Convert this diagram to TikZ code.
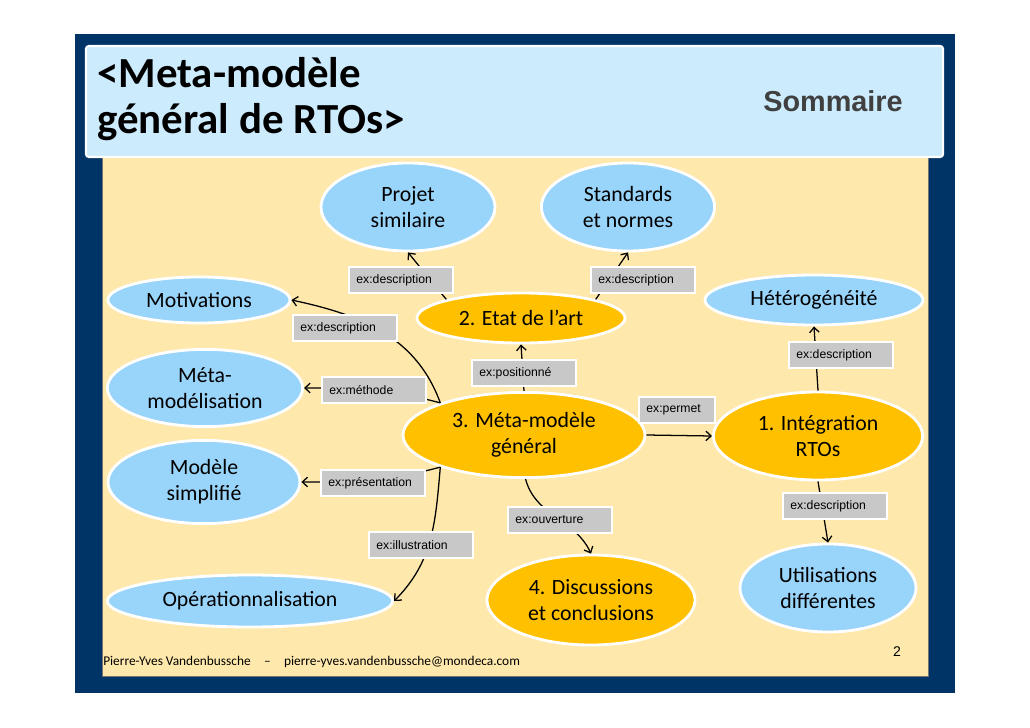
\documentclass[tikz,border=0pt]{standalone}
\usepackage{fontspec}
\setmainfont{Carlito}
\newfontfamily\arialfont{Liberation Sans}
\usetikzlibrary{shapes.geometric,arrows.meta}

\definecolor{navy}{RGB}{0,51,102}
\definecolor{titlebg}{RGB}{204,235,252}
\definecolor{sand}{RGB}{254,232,172}
\definecolor{skyblue}{RGB}{153,212,250}
\definecolor{gold}{RGB}{255,192,0}
\definecolor{tagrey}{RGB}{200,200,200}
\definecolor{dgrey}{RGB}{64,64,64}

\tikzset{
	bubble/.style={ellipse, draw=white, line width=2pt, fill=skyblue, inner sep=0pt, align=center, font=\fontsize{15.5}{18.6}\selectfont},
	part/.style={bubble, fill=gold},
	tag/.style={rectangle, draw=white, line width=1.6pt, fill=tagrey, minimum height=0.64cm, inner xsep=5.5pt, text width=2.23cm, align=left, font=\arialfont\fontsize{8.7}{10}\selectfont},
	link/.style={-{Straight Barb[length=1.3mm,width=2.4mm]}, line width=0.9pt},
}

\begin{document}
\begin{tikzpicture}[x=0.025cm,y=0.025cm]
	\useasboundingbox[fill=white] (0,0) rectangle (1030,-728);
	% slide frame
	\fill[navy] (75,-34) rectangle (955,-693);
	\draw[fill=sand, draw=black!55, line width=0.5pt] (102,-150) rectangle (928,-676);
	\draw[fill=titlebg, draw=white, line width=1.5pt, rounded corners=2pt] (86,-46) rectangle (943,-157);

	\node (titre)		at (97,-57) [anchor=north west, inner sep=0pt, align=left, font=\bfseries\fontsize{30.5}{32.7}\selectfont] {<Meta-modèle\\général de RTOs>};
	\node (sommaire)	at (833,-101) [inner sep=0pt, text=dgrey, font=\arialfont\bfseries\fontsize{20.5}{24}\selectfont] {Sommaire};
	\node (auteur)		at (103,-665) [anchor=base west, inner sep=0pt, font=\fontsize{9.5}{11}\selectfont] {Pierre-Yves Vandenbussche\quad–\quad pierre-yves.vandenbussche@mondeca.com};
	\node (pagenum)		at (897,-652) [inner sep=0pt, font=\arialfont\fontsize{10}{12}\selectfont] {2};

	% parts of the talk
	\node (etat)		at (521,-318) [part, minimum width=5.2cm, minimum height=1.25cm] {2. Etat de l’art};
	\node (meta)		at (524,-435) [part, minimum width=6.05cm, minimum height=2.13cm] {3. Méta-modèle\\général};
	\node (integ)		at (818,-436) [part, minimum width=5.23cm, minimum height=2.2cm] {1. Intégration\\RTOs};
	\node (discuss)		at (591,-600) [part, minimum width=5.2cm, minimum height=2.25cm] {4. Discussions\\et conclusions};

	% topics
	\node (projet)		at (408,-207) [bubble, minimum width=4.35cm, minimum height=2.2cm] {Projet\\similaire};
	\node (standards)	at (628,-207) [bubble, minimum width=4.33cm, minimum height=2.2cm] {Standards\\et normes};
	\node (motiv)		at (199,-300) [bubble, minimum width=4.55cm, minimum height=1.15cm] {Motivations};
	\node (metamod)		at (205,-388) [bubble, minimum width=4.88cm, minimum height=1.93cm] {Méta-\\modélisation};
	\node (modele)		at (204,-482) [bubble, minimum width=4.8cm, minimum height=2.08cm] {Modèle\\simplifié};
	\node (operat)		at (250,-601) [bubble, minimum width=7.13cm, minimum height=1.3cm] {Opérationnalisation};
	\node (hetero)		at (814,-300) [bubble, minimum width=5.45cm, minimum height=1.25cm] {Hétérogénéité};
	\node (utilis)		at (828,-588) [bubble, minimum width=4.4cm, minimum height=2.2cm] {Utilisations\\différentes};

	\path (etat.166)	edge[link] (projet.south)
		(etat.14)		edge[link] (standards.south)
		(meta.159)		edge[link, out=110, in=-12] (motiv.east)
		(meta.159)		edge[link, out=165, in=0] (metamod.east)
		(meta.201)		edge[link, out=195, in=0] (modele.east)
		(meta.201)		edge[link, out=-95, in=45] (operat.east)
		(meta.north)	edge[link] (etat.south)
		(meta.east)		edge[link] (integ.west)
		(meta.272)		edge[link, out=-75, in=115] (discuss.north)
		(integ.north)	edge[link] (hetero.south)
		(integ.south)	edge[link] (utilis.north);

	% relation labels
	\node (tag0)		at (401,-280) [tag] {ex:description};
	\node (tag1)		at (643,-280) [tag] {ex:description};
	\node (tag2)		at (345,-328) [tag] {ex:description};
	\node (tag3)		at (374,-390) [tag] {ex:méthode};
	\node (tag4)		at (524,-373) [tag] {ex:positionné};
	\node (tag5)		at (677,-410) [tag, text width=1.53cm] {ex:permet};
	\node (tag6)		at (841,-355) [tag] {ex:description};
	\node (tag7)		at (835,-506) [tag] {ex:description};
	\node (tag8)		at (373,-483) [tag] {ex:présentation};
	\node (tag9)		at (421,-545) [tag] {ex:illustration};
	\node (tag10)		at (560,-520) [tag] {ex:ouverture};
\end{tikzpicture}
\end{document}
